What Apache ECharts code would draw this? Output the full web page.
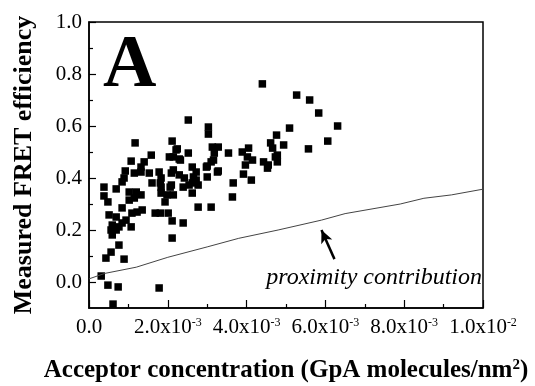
<!DOCTYPE html>
<html>
<head>
<meta charset="utf-8">
<script src="https://cdn.jsdelivr.net/npm/echarts@6/dist/echarts.min.js"></script>
<style>
html,body{margin:0;padding:0;background:#fff;}
#chart{width:535px;height:386px;}
</style>
</head>
<body>
<div id="chart"></div>
<script>
// measured points (acceptor concentration, FRET efficiency)
const conc = [
  0.31e-3, 0.48e-3, 0.74e-3, 0.61e-3, 1.78e-3, 0.43e-3, 0.56e-3, 0.76e-3, 0.89e-3, 2.11e-3,
  0.38e-3, 0.69e-3, 0.38e-3, 0.48e-3, 0.84e-3, 0.51e-3, 0.69e-3, 0.59e-3, 0.56e-3, 0.59e-3,
  0.69e-3, 0.76e-3, 0.84e-3, 0.94e-3, 1.07e-3, 1.09e-3, 1.22e-3, 1.35e-3, 1.68e-3, 1.81e-3,
  2.01e-3, 2.11e-3, 2.39e-3, 1.93e-3, 1.02e-3, 1.20e-3, 1.32e-3, 1.02e-3, 1.15e-3, 1.60e-3,
  1.81e-3, 1.83e-3, 1.98e-3, 2.09e-3, 2.14e-3, 2.06e-3, 2.39e-3, 2.62e-3, 2.77e-3, 2.62e-3,
  2.77e-3, 3.10e-3, 3.64e-3, 0.92e-3, 0.89e-3, 0.84e-3, 1.15e-3, 1.32e-3, 1.53e-3, 1.78e-3,
  1.83e-3, 1.83e-3, 2.09e-3, 2.29e-3, 2.42e-3, 2.62e-3, 2.72e-3, 2.72e-3, 2.54e-3, 2.98e-3,
  3.00e-3, 3.26e-3, 1.40e-3, 1.32e-3, 1.07e-3, 1.58e-3, 2.04e-3, 2.29e-3, 1.17e-3, 2.11e-3,
  2.21e-3, 2.52e-3, 2.52e-3, 3.03e-3, 3.03e-3, 3.13e-3, 3.18e-3, 3.10e-3, 3.28e-3, 3.16e-3,
  3.00e-3, 3.54e-3, 3.28e-3, 2.14e-3, 2.24e-3, 2.14e-3, 2.32e-3, 3.89e-3, 4.05e-3, 4.02e-3,
  4.15e-3, 3.97e-3, 4.43e-3, 4.55e-3, 4.53e-3, 4.73e-3, 4.78e-3, 4.78e-3, 3.92e-3, 4.12e-3,
  3.66e-3, 4.61e-3, 4.66e-3, 4.94e-3, 4.76e-3, 5.09e-3, 5.57e-3, 4.40e-3, 5.27e-3, 5.60e-3,
  5.83e-3, 6.31e-3, 6.06e-3, 2.65e-3
];
const fret = [
  0.023, -0.012, -0.019, -0.085, -0.023, 0.092, 0.115, 0.142, 0.088, 0.169,
  0.365, 0.358, 0.331, 0.308, 0.285, 0.258, 0.250, 0.219, 0.200, 0.181,
  0.200, 0.212, 0.227, 0.238, 0.212, 0.265, 0.269, 0.277, 0.265, 0.265,
  0.265, 0.235, 0.227, 0.308, 0.346, 0.346, 0.335, 0.315, 0.323, 0.381,
  0.381, 0.342, 0.335, 0.373, 0.335, 0.365, 0.365, 0.381, 0.373, 0.342,
  0.288, 0.288, 0.327, 0.427, 0.400, 0.385, 0.419, 0.423, 0.419, 0.423,
  0.400, 0.365, 0.419, 0.412, 0.400, 0.442, 0.423, 0.392, 0.373, 0.442,
  0.404, 0.423, 0.462, 0.442, 0.465, 0.488, 0.481, 0.473, 0.535, 0.542,
  0.508, 0.496, 0.623, 0.596, 0.569, 0.519, 0.496, 0.462, 0.519, 0.469,
  0.446, 0.496, 0.427, 0.431, 0.512, 0.481, 0.469, 0.500, 0.515, 0.481,
  0.469, 0.450, 0.462, 0.450, 0.438, 0.481, 0.462, 0.488, 0.415, 0.392,
  0.381, 0.535, 0.515, 0.527, 0.565, 0.592, 0.512, 0.762, 0.719, 0.700,
  0.650, 0.600, 0.542, 0.404
];

// proximity contribution curve
const proxConc = [0, 0.4e-3, 1.2e-3, 2.0e-3, 3.0e-3, 3.8e-3, 4.8e-3, 5.9e-3, 6.5e-3, 7.9e-3, 8.5e-3, 9.2e-3, 10e-3];
const proxFret = [0.012, 0.033, 0.057, 0.095, 0.135, 0.168, 0.200, 0.238, 0.263, 0.300, 0.322, 0.335, 0.357];

// arrow pointing at the curve: [tail, head]
const arrowConc = [6.23e-3, 5.9e-3];
const arrowFret = [0.088, 0.200];

// tick labels
const xTickText = ['0.0', '2.0x10', '4.0x10', '6.0x10', '8.0x10', '1.0x10'];
const xTickExp = ['', '-3', '-3', '-3', '-3', '-2'];
const yTicks = [0, 0.2, 0.4, 0.6, 0.8, 1.0];
const yMinorTicks = [0.1, 0.3, 0.5, 0.7, 0.9];

const serif = '"Liberation Serif", "Times New Roman", serif';

const chart = echarts.init(document.getElementById('chart'));

const option = {
  animation: false,
  backgroundColor: '#fff',
  grid: {
    left: 89, right: 52, top: 22, bottom: 78,
    show: true, borderColor: '#000', borderWidth: 1.5,
    outerBoundsMode: 'none'
  },
  xAxis: {
    type: 'value',
    min: 0, max: 0.01, interval: 0.002,
    axisLine: { onZero: false, lineStyle: { color: '#000', width: 1.5 } },
    axisTick: { inside: true, length: 8, lineStyle: { color: '#000', width: 1.2 } },
    minorTick: { show: true, splitNumber: 2, length: 4, lineStyle: { color: '#000', width: 1.2 } },
    splitLine: { show: false },
    axisLabel: {
      margin: 9,
      formatter: (v, i) => xTickExp[i] ? '{m|' + xTickText[i] + '}{s|' + xTickExp[i] + '}' : '{m|' + xTickText[i] + '}',
      rich: {
        m: { fontSize: 21, fontFamily: serif, color: '#000' },
        s: { fontSize: 12, fontFamily: serif, color: '#000', verticalAlign: 'top' }
      }
    },
    name: '{t|Acceptor concentration (GpA molecules/nm}{s|2}{t|)}',
    nameLocation: 'middle',
    nameGap: 50,
    nameTextStyle: {
      rich: {
        t: { fontSize: 25, fontWeight: 'bold', fontFamily: serif, color: '#000' },
        s: { fontSize: 15, fontWeight: 'bold', fontFamily: serif, color: '#000', verticalAlign: 'top' }
      }
    }
  },
  yAxis: [{
    type: 'value',
    min: -0.1, max: 1.0,
    axisLine: { onZero: false, lineStyle: { color: '#000', width: 1.5 } },
    axisTick: { inside: true, length: 7, customValues: yTicks, lineStyle: { color: '#000', width: 1.2 } },
    splitLine: { show: false },
    axisLabel: {
      customValues: yTicks,
      margin: 7,
      fontSize: 21, fontFamily: serif, color: '#000',
      formatter: v => v.toFixed(1)
    },
    name: 'Measured FRET efficiency',
    nameLocation: 'middle',
    nameGap: 52,
    nameTextStyle: { fontSize: 26, fontWeight: 'bold', fontFamily: serif, color: '#000', padding: [0, 0, 0, 0] }
  }, {
    type: 'value',
    position: 'left',
    min: -0.1, max: 1.0,
    axisLine: { show: false, onZero: false },
    axisTick: { inside: true, length: 4, customValues: yMinorTicks, lineStyle: { color: '#000', width: 1.2 } },
    axisLabel: { show: false },
    splitLine: { show: false }
  }],
  graphic: [{
    type: 'text',
    style: {
      x: 103, y: 67, text: 'A',
      font: 'bold 74px ' + serif,
      fill: '#000', align: 'left', verticalAlign: 'middle'
    }
  }, {
    type: 'text',
    style: {
      x: 482, y: 278, text: 'proximity contribution',
      font: 'italic 24px ' + serif,
      fill: '#000', align: 'right', verticalAlign: 'middle'
    }
  }],
  series: [{
    type: 'scatter',
    symbol: 'rect',
    symbolSize: 7.5,
    itemStyle: { color: '#000', opacity: 1 },
    data: conc.map((c, i) => [c, fret[i]])
  }, {
    type: 'line',
    showSymbol: false,
    lineStyle: { color: '#444', width: 1 },
    data: proxConc.map((c, i) => [c, proxFret[i]]),
    markLine: {
      silent: true,
      symbol: ['none', 'arrow'],
      symbolSize: [9, 13],
      label: { show: false },
      lineStyle: { color: '#000', width: 2.5, type: 'solid' },
      data: [[
        { coord: [arrowConc[0], arrowFret[0]] },
        { coord: [arrowConc[1], arrowFret[1]] }
      ]]
    }
  }]
};

chart.setOption(option);
</script>
</body>
</html>
